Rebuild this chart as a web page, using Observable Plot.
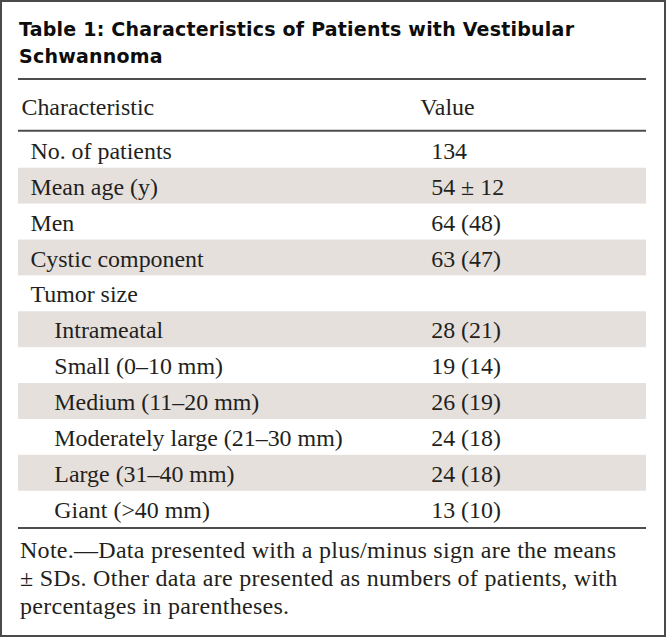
<!DOCTYPE html>
<html><head><meta charset="utf-8">
<script src="https://cdn.jsdelivr.net/npm/d3@7"></script>
<script src="https://cdn.jsdelivr.net/npm/@observablehq/plot@0.6"></script>
<style>
html,body{margin:0;padding:0;background:#fff;}
#frame{position:relative;width:666px;height:637px;box-sizing:border-box;border:2px solid #4a4a4a;overflow:hidden;background:#fff;}
#title{position:absolute;left:17px;top:14px;font-family:"DejaVu Sans",sans-serif;font-weight:bold;font-size:19px;line-height:27px;color:#0d0d0d;margin:0;white-space:nowrap;}
#note{position:absolute;left:18px;top:534px;font-family:"Liberation Serif",serif;font-size:24px;line-height:28px;color:#231f20;margin:0;white-space:nowrap;}
#title span,#note span{display:inline-block;}
#chart{position:absolute;left:-2px;top:68px;}
</style>
</head><body>
<div id="frame">
  <div id="title"></div>
  <div id="chart"></div>
  <div id="note"></div>
</div>
<script>
const titleLines = ["Table 1: Characteristics of Patients with Vestibular", "Schwannoma"];
const columns = ["Characteristic", "Value"];
const labels = ["No. of patients","Mean age (y)","Men","Cystic component","Tumor size","Intrameatal","Small (0–10 mm)","Medium (11–20 mm)","Moderately large (21–30 mm)","Large (31–40 mm)","Giant (>40 mm)"];
const values = ["134","54 ± 12","64 (48)","63 (47)","","28 (21)","19 (14)","26 (19)","24 (18)","24 (18)","13 (10)"];
const levels = [0,0,0,0,0,1,1,1,1,1,1];
const noteLines = ["Note.—Data presented with a plus/minus sign are the means", "± SDs. Other data are presented as numbers of patients, with", "percentages in parentheses."];

// layout constants
const rowH = 36;
const headerSpan = 52 / rowH;   // header row height in row units
const ink = "#231f20";

// fill text blocks, then fit the first line's width to the reference by letter-spacing
function fill(id, lines, targetWidth) {
  const el = document.getElementById(id);
  el.innerHTML = "";
  lines.forEach((t, k) => {
    const s = document.createElement("span");
    s.textContent = t;
    el.appendChild(s);
    if (k < lines.length - 1) el.appendChild(document.createElement("br"));
  });
  const first = el.querySelector("span");
  const w = first.getBoundingClientRect().width;
  const ls = (targetWidth - w) / Math.max(1, lines[0].length - 1);
  el.style.letterSpacing = ls.toFixed(3) + "px";
}
fill("title", titleLines, 555);
fill("note", noteLines, 596);

const rows = labels.map((label, i) => ({i, label, value: values[i], level: levels[i]}));

const chart = Plot.plot({
  width: 666,
  height: 470,
  marginLeft: 18, marginRight: 18, marginTop: 0, marginBottom: 0,
  x: {type: "point", domain: columns, range: [21, 421], padding: 0, axis: null},
  y: {type: "linear", domain: [0, labels.length], range: [62, 62 + rowH * labels.length], axis: null},
  style: {background: "transparent", fontFamily: "'Liberation Serif', serif", fontSize: "24px", color: ink, overflow: "visible"},
  marks: [
    Plot.rect(rows.filter(d => d.i % 2 === 1), {y1: "i", y2: d => d.i + 1, fill: "#e6e0dd"}),
    Plot.ruleY([-headerSpan, 0], {stroke: "#4d4d4d", strokeWidth: 2, dy: -1.5}),
    Plot.ruleY([labels.length], {stroke: "#4d4d4d", strokeWidth: 2, dy: 1}),
    Plot.text(columns, {x: d => d, y: () => -headerSpan / 2, text: d => d, textAnchor: "start", fill: ink, dy: 1}),
    Plot.text(rows.filter(d => d.level === 0), {x: () => "Characteristic", y: d => d.i + 0.5, text: "label", textAnchor: "start", dx: 9, dy: 1, fill: ink}),
    Plot.text(rows.filter(d => d.level === 1), {x: () => "Characteristic", y: d => d.i + 0.5, text: "label", textAnchor: "start", dx: 33, dy: 1, fill: ink}),
    Plot.text(rows, {x: () => "Value", y: d => d.i + 0.5, text: "value", textAnchor: "start", dx: 11, dy: 1, fill: ink})
  ]
});
document.getElementById("chart").appendChild(chart);
</script>
</body></html>
